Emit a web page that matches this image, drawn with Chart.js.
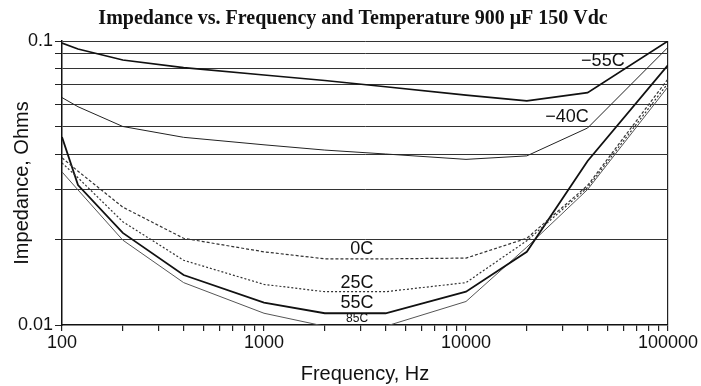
<!DOCTYPE html>
<html>
<head>
<meta charset="utf-8">
<script src="https://cdn.jsdelivr.net/npm/chart.js@4.4.0/dist/chart.umd.min.js"></script>
<style>
    html, body { margin: 0; padding: 0; background: #fff; }
    #wrap { width: 701px; height: 386px; position: relative; }
</style>
</head>
<body>
<div id="wrap"><canvas id="chart"></canvas></div>
<script>
// Impedance (ohms) read at each test frequency, one array per temperature
const frequencies = [100, 120, 200, 400, 1000, 2000, 4000, 10000, 20000, 40000, 100000];
const impMinus55 = [0.0984, 0.0937, 0.0857, 0.0806, 0.0759, 0.0726, 0.069, 0.0645, 0.0615, 0.0658, 0.1];
const impMinus40 = [0.0632, 0.0587, 0.050, 0.0458, 0.0431, 0.0413, 0.040, 0.0383, 0.0394, 0.0494, 0.095];
const imp0C = [0.0388, 0.0348, 0.0260, 0.0202, 0.0181, 0.0171, 0.0171, 0.0172, 0.0202, 0.031, 0.0735];
const imp25C = [0.0372, 0.033, 0.0231, 0.0169, 0.0139, 0.0131, 0.0131, 0.0141, 0.0198, 0.0305, 0.071];
const imp55C = [0.0459, 0.0311, 0.0211, 0.0150, 0.0120, 0.0110, 0.0110, 0.0131, 0.0181, 0.0378, 0.0823];
const imp85C = [0.0346, 0.0299, 0.0199, 0.0141, 0.0110, 0.0099, 0.0099, 0.0121, 0.0188, 0.030, 0.069];

// axis ticks
const xTicks = [100, 200, 300, 400, 500, 600, 700, 800, 900,
    1000, 2000, 3000, 4000, 5000, 6000, 7000, 8000, 9000,
    10000, 20000, 30000, 40000, 50000, 60000, 70000, 80000, 90000, 100000];
const xLabels = [100, 1000, 10000, 100000];
const yTicks = [0.01, 0.02, 0.03, 0.04, 0.05, 0.06, 0.07, 0.08, 0.09, 0.1];
const yLabels = [0.01, 0.1];

// curve labels (text, frequency, impedance)
const curveNames = ['\u221255C', '\u221240C', '0C', '25C', '55C', '85C'];
const curveLabelFreq = [47600, 31600, 3050, 2890, 2890, 2890];
const curveLabelImp = [0.085, 0.054, 0.01845, 0.01406, 0.01195, 0.0105];

const toPoints = (vals) => frequencies.map((f, i) => ({ x: f, y: vals[i] }));

function series(label, vals, width, color, dash) {
    return {
        label: label,
        data: toPoints(vals),
        borderColor: color,
        borderWidth: width,
        borderDash: dash || [],
        pointRadius: 0,
        tension: 0,
        fill: false
    };
}

const curveLabelsPlugin = {
    id: 'curveLabels',
    afterDatasetsDraw(chart) {
        const ctx = chart.ctx;
        const xs = chart.scales.x, ys = chart.scales.y;
        ctx.save();
        ctx.fillStyle = '#111';
        ctx.textAlign = 'center';
        ctx.textBaseline = 'middle';
        curveNames.forEach((name, i) => {
            ctx.font = (name === '85C' ? '12px' : '18px') + ' "Liberation Sans", Arial, sans-serif';
            ctx.fillText(name, xs.getPixelForValue(curveLabelFreq[i]), ys.getPixelForValue(curveLabelImp[i]));
        });
        ctx.restore();
    }
};

const headerPlugin = {
    id: 'header',
    afterDraw(chart) {
        const ctx = chart.ctx;
        ctx.save();
        ctx.fillStyle = '#111';
        ctx.font = 'bold 20px "Liberation Serif", "Times New Roman", serif';
        ctx.textAlign = 'center';
        ctx.textBaseline = 'middle';
        ctx.fillText('Impedance vs. Frequency and Temperature 900 \u03bcF 150 Vdc', 353, 19);
        ctx.restore();
    }
};

const tickFont = { family: '"Liberation Sans", Arial, sans-serif', size: 18 };

new Chart(document.getElementById('chart').getContext('2d'), {
    type: 'line',
    data: {
        datasets: [
            series('-55C', impMinus55, 1.7, '#111'),
            series('-40C', impMinus40, 1, '#222'),
            series('0C', imp0C, 1.2, '#333', [3, 2]),
            series('25C', imp25C, 1.2, '#333', [2, 2]),
            series('55C', imp55C, 1.8, '#111'),
            series('85C', imp85C, 1, '#555')
        ]
    },
    options: {
        responsive: true,
        maintainAspectRatio: false,
        animation: false,
        layout: { padding: { top: 41, right: 33, left: 0, bottom: 0 } },
        plugins: {
            legend: { display: false },
            tooltip: { enabled: false },
            title: { display: false }
        },
        scales: {
            x: {
                type: 'logarithmic',
                min: 100,
                max: 100000,
                afterBuildTicks: (scale) => { scale.ticks = xTicks.map(v => ({ value: v })); },
                afterFit: (scale) => { scale.height = 61; },
                ticks: {
                    autoSkip: false,
                    maxRotation: 0,
                    color: '#111',
                    padding: 1,
                    font: tickFont,
                    callback: (value) => xLabels.includes(value) ? String(value) : ''
                },
                grid: {
                    color: (c) => (c.tick && c.tick.value === 100000) ? '#222' : 'rgba(0,0,0,0)',
                    tickColor: '#222',
                    tickLength: 6,
                    lineWidth: 1.2
                },
                border: { display: true, color: '#111', width: 1.5 },
                title: {
                    display: true,
                    text: 'Frequency, Hz',
                    color: '#111',
                    font: { family: '"Liberation Sans", Arial, sans-serif', size: 20 },
                    padding: { top: 4, bottom: 0 }
                }
            },
            y: {
                type: 'logarithmic',
                min: 0.01,
                max: 0.1,
                afterBuildTicks: (scale) => { scale.ticks = yTicks.map(v => ({ value: v })); },
                afterFit: (scale) => { scale.width = 62; },
                ticks: {
                    autoSkip: false,
                    color: '#111',
                    padding: 2,
                    font: tickFont,
                    callback: (value) => yLabels.includes(value) ? String(value) : ''
                },
                grid: {
                    color: (c) => (c.tick && c.tick.value === 0.01) ? 'rgba(0,0,0,0)' : '#333',
                    tickColor: '#222',
                    tickLength: 7,
                    lineWidth: 1
                },
                border: { display: true, color: '#111', width: 1.5 },
                title: {
                    display: true,
                    text: 'Impedance, Ohms',
                    color: '#111',
                    font: { family: '"Liberation Sans", Arial, sans-serif', size: 20 },
                    padding: { top: 10, bottom: 0 }
                }
            }
        }
    },
    plugins: [curveLabelsPlugin, headerPlugin]
});
</script>
</body>
</html>
